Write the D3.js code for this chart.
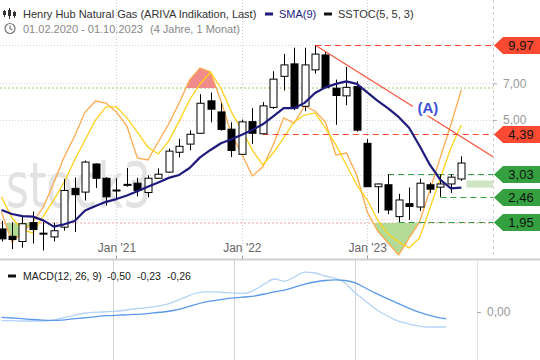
<!DOCTYPE html>
<html>
<head>
<meta charset="utf-8">
<script src="https://cdn.jsdelivr.net/npm/d3@7"></script>
<style>
  body { margin: 0; background: #fff; }
  svg { display: block; font-family: "Liberation Sans", Arial, sans-serif; }
</style>
</head>
<body>
<svg id="chart" width="540" height="360"></svg>
<script>
// monthly candles Feb 2020 .. Oct 2023 (index 0 = Feb 2020)
var open  = [1.83,1.71,1.63,1.94,1.75,1.70,1.86,2.66,2.57,3.33,2.92,2.61,2.75,2.79,2.56,2.92,3.09,3.71,4.00,4.42,5.96,5.38,4.59,3.64,4.92,4.40,5.61,7.47,8.38,5.67,7.93,9.10,6.70,6.24,6.80,4.03,2.70,2.75,2.05,2.31,2.24,2.75,2.69,2.77,2.90];
var high  = [1.97,1.95,2.05,2.15,1.95,1.94,2.90,2.94,3.44,3.35,2.95,2.92,3.21,2.93,3.00,3.20,3.84,4.20,4.54,6.34,6.44,5.83,4.89,5.02,5.57,5.89,7.83,9.19,9.73,9.73,9.97,9.38,7.25,8.15,7.14,4.19,2.78,3.03,2.53,2.68,2.91,2.80,3.02,3.03,3.57];
var low   = [1.63,1.52,1.54,1.60,1.50,1.63,1.80,1.78,2.38,2.67,2.27,2.39,2.70,2.47,2.45,2.90,3.07,3.54,3.78,4.42,4.89,4.53,3.55,3.62,4.01,4.39,5.53,6.56,5.48,5.42,7.66,6.71,4.78,5.72,4.49,2.70,2.12,2.10,1.95,1.99,2.16,2.55,2.46,2.55,2.85];
var close = [1.67,1.66,1.92,1.82,1.76,1.80,2.61,2.51,3.39,2.92,2.46,2.62,2.76,2.61,2.92,3.03,3.75,3.92,4.38,5.83,5.52,4.58,3.77,4.91,4.42,5.69,7.28,8.30,5.57,8.30,9.17,6.73,6.26,6.75,4.55,2.70,2.77,2.18,2.39,2.25,2.79,2.64,2.77,2.95,3.36];

var sma9 = [2.18,2.10,2.06,2.05,1.98,1.87,1.91,1.97,2.17,2.26,2.35,2.41,2.49,2.59,2.70,2.81,2.93,3.01,3.21,3.54,3.79,4.03,4.18,4.36,4.56,4.80,5.17,5.57,5.57,5.85,6.41,6.75,6.97,7.13,6.97,6.44,5.96,5.56,5.14,4.65,3.94,3.30,2.88,2.66,2.68];

var stochK = [24.9,11.6,15.6,20.4,27.1,37.8,49.3,58.7,69.3,74.2,73.3,69.3,63.1,48.9,48.0,56.0,64.0,73.3,83.6,88.9,87.1,74.2,59.6,50.7,40.9,44.9,54.7,66.7,64.4,72.0,69.8,64.9,50.2,51.1,41.3,24.9,16.4,11.1,5.8,13.3,20.4,34.7,49.3,63.6,79.1];
var stochD = [31.6,22.2,16.9,15.6,23.1,30.2,38.2,48.0,56.9,65.8,71.6,71.6,66.7,60.4,53.8,50.7,56.4,65.3,74.7,81.8,87.1,80.0,69.3,61.3,52.4,45.8,51.1,57.8,64.9,68.0,68.9,62.2,54.7,45.8,36.9,30.2,21.3,15.1,11.6,8.9,13.3,26.7,40.0,53.3,63.6];

var macdLine = [-0.29,-0.29,-0.30,-0.30,-0.30,-0.28,-0.20,-0.13,-0.05,-0.01,0.00,0.02,0.05,0.10,0.13,0.17,0.23,0.33,0.47,0.60,0.67,0.67,0.65,0.63,0.62,0.73,0.93,1.10,1.03,1.17,1.33,1.30,1.20,1.13,0.97,0.63,0.37,0.10,-0.10,-0.27,-0.37,-0.45,-0.50,-0.50,-0.50];
var macdSignal = [-0.18,-0.20,-0.22,-0.25,-0.27,-0.28,-0.27,-0.23,-0.20,-0.17,-0.13,-0.12,-0.10,-0.08,-0.07,-0.03,0.00,0.05,0.13,0.23,0.32,0.38,0.43,0.47,0.50,0.53,0.60,0.67,0.73,0.83,0.93,1.00,1.05,1.07,1.05,0.97,0.80,0.63,0.47,0.32,0.17,0.03,-0.08,-0.17,-0.23];

var xTickIdx = [11, 23, 35];
var xTickLabels = ["Jan '21", "Jan '22", "Jan '23"];
var priceTicks = [5, 7];
var priceGrid = [2, 3, 5, 7, 10];

// marked levels (value, first month, colour)
var levelValues = [9.97, 4.39, 3.03, 2.46, 1.95];
var levelStart  = [30, 25, 37, 42, 38];
var levelKind   = ["red", "red", "green", "green", "green"];

var trendPts = [[30, 9.97], [47.03, 3.56]];
var labelA = { idx: 40.8, val: 5.6, text: "(A)" };
var lastBand = [44.5, 47.03, 2.68, 2.86];

var colors = { red: "#fb4a31", green: "#34a03f" };

var svg = d3.select("#chart");
var plotRight = 493, mainBottom = 258;

var x  = d3.scaleLinear().domain([0, 44]).range([1.5, 461.3]);
var y  = d3.scaleLog().domain([1.4, 15.1]).range([258, 0]);
var ys = d3.scaleLinear().domain([0, 100]).range([268, 43]);
var xm = d3.scaleLinear().domain([0, 44]).range([1.45, 446.3]);
var ym = d3.scaleLinear().domain([-1, 1]).range([342, 282]);

var de = d3.formatLocale({ decimal: ",", thousands: ".", grouping: [3], currency: ["", ""] });
var fmt = de.format(".2f");

var defs = svg.append("defs");
defs.append("clipPath").attr("id", "mainClip")
  .append("rect").attr("x", 0).attr("y", 0).attr("width", plotRight).attr("height", mainBottom);
defs.append("clipPath").attr("id", "overClip")
  .append("rect").attr("x", 0).attr("y", 0).attr("width", plotRight).attr("height", ys(80));
defs.append("clipPath").attr("id", "underClip")
  .append("rect").attr("x", 0).attr("y", ys(20)).attr("width", plotRight).attr("height", mainBottom - ys(20));

// grid
var grid = svg.append("g");
grid.selectAll(".hg").data(priceGrid).enter().append("line")
  .attr("x1", 0).attr("x2", plotRight)
  .attr("y1", function (d) { return Math.round(y(d)) + 0.5; })
  .attr("y2", function (d) { return Math.round(y(d)) + 0.5; })
  .attr("stroke", "#d9d2e3").attr("stroke-dasharray", "1,2");
grid.selectAll(".vg").data(xTickIdx).enter().append("line")
  .attr("x1", function (d) { return Math.round(x(d)) + 0.5; })
  .attr("x2", function (d) { return Math.round(x(d)) + 0.5; })
  .attr("y1", 0).attr("y2", mainBottom)
  .attr("stroke", "#cfcfcf").attr("stroke-dasharray", "1,2");
grid.append("line").attr("x1", plotRight + 0.5).attr("x2", plotRight + 0.5)
  .attr("y1", 0).attr("y2", mainBottom)
  .attr("stroke", "#cccccc").attr("stroke-dasharray", "3,3");

// watermark
svg.append("text").attr("x", 6).attr("y", 207)
  .attr("font-family", "DejaVu Sans").attr("font-size", 62)
  .attr("textLength", 145).attr("lengthAdjust", "spacingAndGlyphs")
  .attr("fill", "#e2e2e2").text("stock3");

var main = svg.append("g").attr("clip-path", "url(#mainClip)");

// stochastic 80 / 20 levels
main.append("line").attr("x1", 0).attr("x2", plotRight)
  .attr("y1", ys(80)).attr("y2", ys(80))
  .attr("stroke", "#8fd16a").attr("stroke-dasharray", "2,2");
main.append("line").attr("x1", 0).attr("x2", plotRight)
  .attr("y1", ys(20)).attr("y2", ys(20))
  .attr("stroke", "#f4a3a3").attr("stroke-dasharray", "2,2");

var idx = d3.range(stochK.length);
main.append("path").datum(idx).attr("clip-path", "url(#overClip)")
  .attr("fill", "#ef8b8b")
  .attr("d", d3.area().x(function (i) { return x(i); })
    .y0(ys(80)).y1(function (i) { return ys(stochK[i]); }));
main.append("path").datum(idx).attr("clip-path", "url(#underClip)")
  .attr("fill", "#b3db95")
  .attr("d", d3.area().x(function (i) { return x(i); })
    .y0(ys(20)).y1(function (i) { return ys(stochK[i]); }));

var stLine = function (arr) {
  return d3.line().x(function (i) { return x(i); }).y(function (i) { return ys(arr[i]); });
};
main.append("path").datum(idx).attr("fill", "none")
  .attr("stroke", "#ffa94d").attr("stroke-width", 1.3).attr("d", stLine(stochK));
main.append("path").datum(idx).attr("fill", "none")
  .attr("stroke", "#ffd21a").attr("stroke-width", 1.3).attr("d", stLine(stochD));

// level lines
levelValues.forEach(function (v, i) {
  main.append("line")
    .attr("x1", x(levelStart[i])).attr("x2", plotRight)
    .attr("y1", Math.round(y(v)) + 0.5).attr("y2", Math.round(y(v)) + 0.5)
    .attr("stroke", colors[levelKind[i]]).attr("stroke-width", 1.2)
    .attr("stroke-dasharray", "6,4");
});

main.append("rect")
  .attr("x", x(lastBand[0])).attr("width", x(lastBand[1]) - x(lastBand[0]))
  .attr("y", y(lastBand[3])).attr("height", y(lastBand[2]) - y(lastBand[3]))
  .attr("fill", "#cfe6c2");

// candles
var candles = main.append("g").selectAll("g").data(idx).enter().append("g");
candles.append("line")
  .attr("x1", function (i) { return Math.round(x(i)) + 0.5; })
  .attr("x2", function (i) { return Math.round(x(i)) + 0.5; })
  .attr("y1", function (i) { return y(high[i]); })
  .attr("y2", function (i) { return y(low[i]); })
  .attr("stroke", "#000");
candles.append("rect")
  .attr("x", function (i) { return Math.round(x(i)) - 3; })
  .attr("width", 7)
  .attr("y", function (i) { return y(Math.max(open[i], close[i])); })
  .attr("height", function (i) { return Math.max(1, Math.abs(y(open[i]) - y(close[i]))); })
  .attr("fill", function (i) { return close[i] >= open[i] ? "#fff" : "#000"; })
  .attr("stroke", "#000").attr("stroke-width", 1);

// SMA(9)
main.append("path").datum(idx).attr("fill", "none")
  .attr("stroke", "#1e1b7c").attr("stroke-width", 2.2).attr("stroke-linejoin", "round")
  .attr("d", d3.line().x(function (i) { return x(i); }).y(function (i) { return y(sma9[i]); }));

// trend line (A)
main.append("line")
  .attr("x1", x(trendPts[0][0])).attr("y1", y(trendPts[0][1]))
  .attr("x2", x(trendPts[1][0])).attr("y2", y(trendPts[1][1]))
  .attr("stroke", "#f8553f").attr("stroke-width", 1.2);
main.append("rect")
  .attr("x", x(labelA.idx) - 15).attr("y", y(labelA.val) - 9)
  .attr("width", 28).attr("height", 17).attr("fill", "#fff");
main.append("text")
  .attr("x", x(labelA.idx)).attr("y", y(labelA.val) + 5.5)
  .attr("text-anchor", "middle").attr("font-size", 15).attr("font-weight", "bold")
  .attr("fill", "#4152d6").text(labelA.text);

// x labels
var xAxis = svg.append("g").attr("transform", "translate(0,256)")
  .call(d3.axisTop(x).tickValues(xTickIdx)
    .tickFormat(function (d, i) { return xTickLabels[i]; })
    .tickSize(0).tickPadding(4));
xAxis.select(".domain").remove();
xAxis.selectAll("text").attr("font-size", 12).attr("fill", "#666")
  .attr("font-family", "Liberation Sans, Arial, sans-serif");
svg.selectAll(".xt").data(xTickIdx).enter().append("line")
  .attr("x1", function (d) { return Math.round(x(d)) + 0.5; })
  .attr("x2", function (d) { return Math.round(x(d)) + 0.5; })
  .attr("y1", 256).attr("y2", 260).attr("stroke", "#999");

// right price axis
var yAxis = svg.append("g").attr("transform", "translate(" + plotRight + ",0)")
  .call(d3.axisRight(y).tickValues(priceTicks).tickFormat(fmt).tickSize(4).tickPadding(6));
yAxis.select(".domain").remove();
yAxis.selectAll("line").attr("stroke", "#aaa");
yAxis.selectAll("text").attr("font-size", 12).attr("fill", "#999")
  .attr("font-family", "Liberation Sans, Arial, sans-serif");

// value tags
levelValues.forEach(function (v, i) {
  var yy = Math.round(y(v)) + 0.5;
  svg.append("polygon")
    .attr("points", [[494, yy], [503, yy - 8.5], [540, yy - 8.5], [540, yy + 8.5], [503, yy + 8.5]].join(" "))
    .attr("fill", colors[levelKind[i]]);
  svg.append("text").attr("x", 521).attr("y", yy + 4.5)
    .attr("text-anchor", "middle").attr("font-size", 13).attr("fill", "#111")
    .text(fmt(v));
});

// legend
var lg = svg.append("g");
[[4, 10, 17, 11, 15], [9, 8, 19, 10, 16], [14, 11, 18, 12, 16]].forEach(function (c) {
  lg.append("line").attr("x1", c[0] + 0.5).attr("x2", c[0] + 0.5).attr("y1", c[1]).attr("y2", c[2]).attr("stroke", "#333");
  lg.append("rect").attr("x", c[0] - 1).attr("y", c[3]).attr("width", 3).attr("height", c[4] - c[3]).attr("fill", "#333");
});
lg.append("text").attr("x", 23).attr("y", 18).attr("font-size", 11).attr("fill", "#333")
  .text("Henry Hub Natural Gas (ARIVA Indikation, Last)");
lg.append("rect").attr("x", 265).attr("y", 12.5).attr("width", 8).attr("height", 3).attr("fill", "#1e1b7c");
lg.append("text").attr("x", 279).attr("y", 18).attr("font-size", 11).attr("fill", "#1e1b7c").text("SMA(9)");
lg.append("rect").attr("x", 324).attr("y", 12.5).attr("width", 8).attr("height", 3).attr("fill", "#111");
lg.append("text").attr("x", 338).attr("y", 18).attr("font-size", 11).attr("fill", "#333").text("SSTOC(5, 5, 3)");
lg.append("circle").attr("cx", 10).attr("cy", 28.5).attr("r", 5).attr("fill", "none").attr("stroke", "#777").attr("stroke-width", 1.2);
lg.append("path").attr("d", "M10,25.5 V28.5 L12.5,30").attr("fill", "none").attr("stroke", "#777").attr("stroke-width", 1.2);
lg.append("text").attr("x", 23).attr("y", 32.5).attr("font-size", 11).attr("fill", "#888").text("01.02.2020 - 01.10.2023");
lg.append("text").attr("x", 150).attr("y", 32.5).attr("font-size", 11).attr("fill", "#888").text("(4 Jahre, 1 Monat)");

// MACD panel
var mp = svg.append("g");
mp.append("line").attr("x1", 0).attr("x2", 540).attr("y1", 259.5).attr("y2", 259.5)
  .attr("stroke", "#cfcfcf").attr("stroke-width", 2);
mp.selectAll(".mg").data(xTickIdx).enter().append("line")
  .attr("x1", function (d) { return Math.round(xm(d)) + 0.5; })
  .attr("x2", function (d) { return Math.round(xm(d)) + 0.5; })
  .attr("y1", 260).attr("y2", 360).attr("stroke", "#d2d2d2");
mp.append("line").attr("x1", 477.5).attr("x2", 477.5).attr("y1", 260).attr("y2", 360).attr("stroke", "#e2e2e2");

var mLine = function (arr) {
  return d3.line().curve(d3.curveMonotoneX).x(function (i) { return xm(i); }).y(function (i) { return ym(arr[i]); });
};
mp.append("path").datum(idx).attr("fill", "none").attr("stroke", "#b4d3f6").attr("stroke-width", 1.3).attr("d", mLine(macdLine));
mp.append("path").datum(idx).attr("fill", "none").attr("stroke", "#5a9ae8").attr("stroke-width", 1.3).attr("d", mLine(macdSignal));

var mAxis = mp.append("g").attr("transform", "translate(477,0)")
  .call(d3.axisRight(ym).tickValues([0]).tickFormat(fmt).tickSize(4).tickPadding(6));
mAxis.select(".domain").remove();
mAxis.selectAll("line").attr("stroke", "#aaa");
mAxis.selectAll("text").attr("font-size", 12).attr("fill", "#999")
  .attr("font-family", "Liberation Sans, Arial, sans-serif");

mp.append("rect").attr("x", 8).attr("y", 274.5).attr("width", 8).attr("height", 3).attr("fill", "#111");
var macdLegend = [["MACD(12, 26, 9)", 23], ["-0,50", 107], ["-0,23", 137], ["-0,26", 167]];
macdLegend.forEach(function (t) {
  mp.append("text").attr("x", t[1]).attr("y", 279.5).attr("font-size", 10.5).attr("fill", "#222").text(t[0]);
});
</script>
</body>
</html>
